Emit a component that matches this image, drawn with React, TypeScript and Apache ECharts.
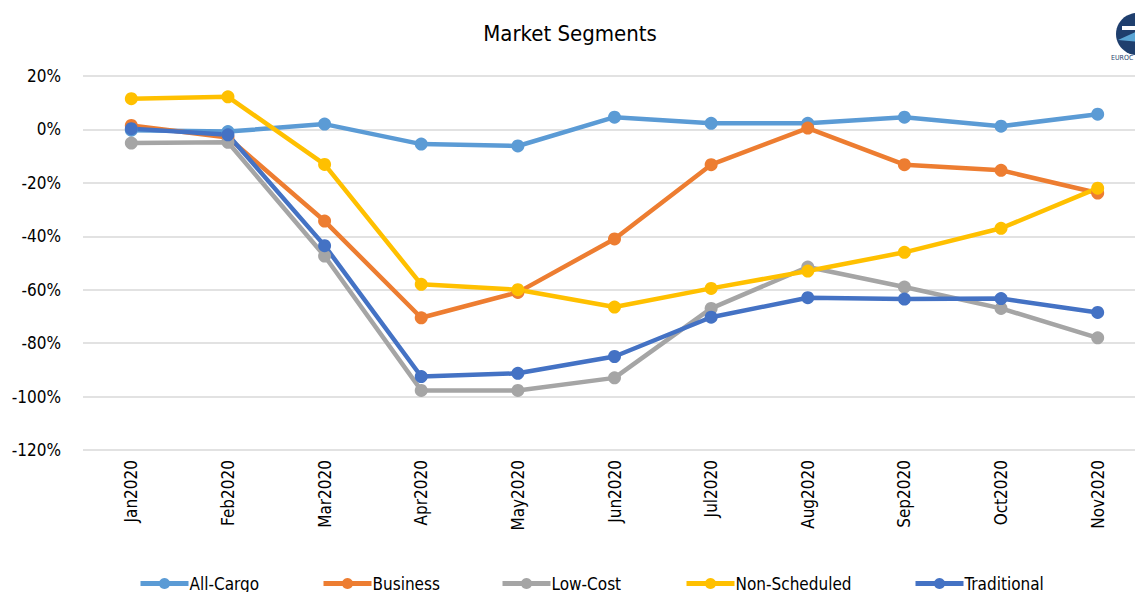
import React, { useEffect, useRef } from "react";
import * as echarts from "echarts";

const categories = ["Jan2020", "Feb2020", "Mar2020", "Apr2020", "May2020", "Jun2020", "Jul2020", "Aug2020", "Sep2020", "Oct2020", "Nov2020"];
const allCargo = [-0.3, -0.8, 2.0, -5.5, -6.2, 4.6, 2.3, 2.3, 4.6, 1.2, 5.7];
const business = [1.5, -3.0, -34.3, -70.5, -61.0, -41.0, -13.2, 0.5, -13.2, -15.3, -23.8];
const lowCost = [-5.1, -4.8, -47.4, -97.7, -97.7, -93.0, -67.0, -51.5, -59.0, -67.0, -78.0];
const nonScheduled = [11.5, 12.2, -13.1, -58.0, -60.0, -66.5, -59.5, -53.0, -46.0, -37.0, -22.0];
const traditional = [0.3, -2.0, -43.5, -92.5, -91.3, -85.0, -70.3, -63.0, -63.5, -63.3, -68.5];
const seriesNames = ["All-Cargo", "Business", "Low-Cost", "Non-Scheduled", "Traditional"];
const yTicks = { min: -120, max: 20, interval: 20 };

const FONT = "'DejaVu Sans Condensed', 'Liberation Sans Narrow', 'Roboto', sans-serif";
const legendLefts = [133, 316, 495, 679, 908];

export default function App() {
  const ref = useRef<HTMLDivElement>(null);
  useEffect(() => {
    const chart = echarts.init(ref.current!, null, { renderer: "svg" });
    const colors = ["#5b9bd5", "#ed7d31", "#a5a5a5", "#ffc000", "#4472c4"];
    const values = [allCargo, business, lowCost, nonScheduled, traditional];
    chart.setOption({
      animation: false,
      backgroundColor: "#ffffff",
      title: {
        text: "Market Segments",
        left: 565,
        textAlign: "center",
        top: 17,
        textStyle: { fontFamily: FONT, fontSize: 22, fontWeight: "normal", color: "#000" },
      },
      legend: seriesNames.map((n, i) => ({
        top: 570,
        left: legendLefts[i],
        itemWidth: 48,
        itemHeight: 14,
        itemGap: 0,
        lineStyle: { width: 5 },
        textStyle: { fontFamily: FONT, fontSize: 17, color: "#000", padding: [0, 0, 0, -4] },
        data: [n],
      })),
      grid: { left: 83, width: 1063, top: 76, height: 374, containLabel: false },
      xAxis: {
        type: "category",
        data: categories,
        boundaryGap: true,
        axisLine: { show: false },
        axisTick: { show: false },
        axisLabel: { rotate: 90, margin: 10, fontFamily: FONT, fontSize: 17, color: "#000" },
      },
      yAxis: {
        type: "value",
        min: yTicks.min,
        max: yTicks.max,
        interval: yTicks.interval,
        axisLine: { show: false },
        axisTick: { show: false },
        splitLine: { lineStyle: { color: "#d9d9d9", width: 1.5 } },
        axisLabel: { formatter: "{value}%", margin: 22, fontFamily: FONT, fontSize: 17, color: "#000" },
      },
      series: seriesNames.map((name, i) => ({
        name,
        type: "line",
        data: values[i],
        symbol: "circle",
        symbolSize: 13,
        lineStyle: { width: 4.5, color: colors[i] },
        itemStyle: { color: colors[i] },
        emphasis: { disabled: true },
      })),
      graphic: [
        { type: "circle", shape: { cx: 1137, cy: 34, r: 21 }, style: { fill: "#1f3f6e" } },
        { type: "polygon", shape: { points: [[1118, 40], [1140, 30], [1140, 42]] }, style: { fill: "#5aa6d6" } },
        { type: "rect", shape: { x: 1122, y: 26, width: 18, height: 4 }, style: { fill: "#ffffff" } },
        { type: "text", x: 1111, y: 54, style: { text: "EUROC", fontSize: 7, fill: "#1f3f6e", fontFamily: "'Liberation Sans Narrow', 'DejaVu Sans Condensed', sans-serif" } },
      ],
    });
    return () => chart.dispose();
  }, []);
  return (
    <div style={{ position: "fixed", left: 0, top: 0, width: 1135, height: 592, overflow: "hidden" }}>
      <div ref={ref} style={{ width: 1160, height: 592 }} />
    </div>
  );
}
